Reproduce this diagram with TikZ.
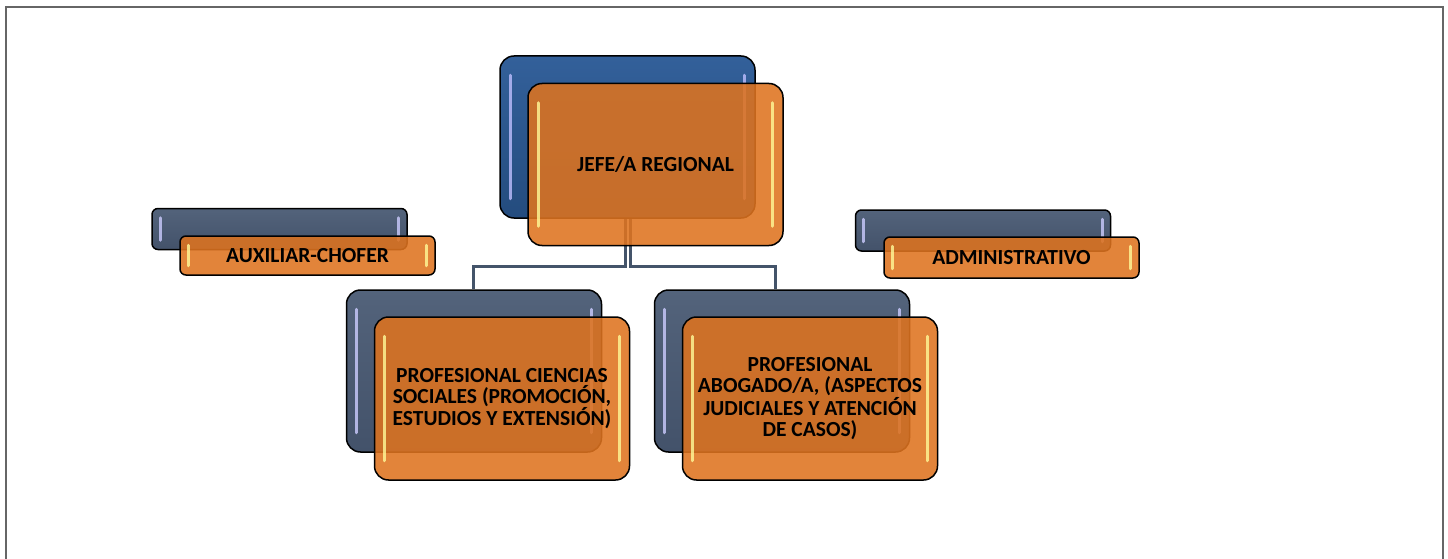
\documentclass[tikz,border=0pt]{standalone}
\usepackage{fontspec}
\setmainfont{Carlito}
\usetikzlibrary{backgrounds}
\definecolor{orgorange}{HTML}{DE731F}
\definecolor{orgblue}{HTML}{244C7E}
\definecolor{orgbluelight}{HTML}{33609A}
\definecolor{orgslate}{HTML}{43526A}
\definecolor{orgslatelight}{HTML}{53637B}
\definecolor{orgline}{HTML}{44546A}
\newcommand{\boxwide}{255pt}
\newcommand{\boxtall}{162pt}
\newcommand{\boxslim}{41pt}
\newcommand{\bigfont}{\fontsize{21.5}{21}\selectfont\bfseries}

\tikzset{
back/.style={rectangle, draw=black, line width=1.5pt, rounded corners=14pt, minimum width=\boxwide, minimum height=\boxtall, inner sep=0pt},
front/.style={back, fill=orgorange, fill opacity=0.88, text opacity=1, align=center, font=\bigfont},
slim/.style={rounded corners=6pt, minimum height=\boxslim},
conn/.style={draw=orgline, line width=3pt},
shine/.style={line width=3pt, line cap=round, draw=#1, opacity=0.8},
}

\begin{document}
\begin{tikzpicture}[x=1pt, y=-1pt]
\useasboundingbox (0,0) rectangle (1448,559);
\draw[black!60, line width=1.5pt] (6,559) -- (6,7) -- (1443,7) -- (1443,559);
%back
\node[back, top color=orgbluelight, bottom color=orgblue] (1b) at (627.5, 137) {};
\node[back, slim, top color=orgslatelight, bottom color=orgslate] (2b) at (279.5, 229) {};
\node[back, slim, top color=orgslatelight, bottom color=orgslate] (3b) at (983, 230.5) {};
\node[back, top color=orgslatelight, bottom color=orgslate] (4b) at (474, 371) {};
\node[back, top color=orgslatelight, bottom color=orgslate] (5b) at (782, 371) {};
\draw[shine=blue!25] ([xshift=11pt, yshift=-20pt]1b.north west) -- ([xshift=11pt, yshift=20pt]1b.south west);
\draw[shine=blue!25] ([xshift=-11pt, yshift=-20pt]1b.north east) -- ([xshift=-11pt, yshift=20pt]1b.south east);
\draw[shine=blue!20] ([xshift=11pt, yshift=-20pt]4b.north west) -- ([xshift=11pt, yshift=20pt]4b.south west);
\draw[shine=blue!20] ([xshift=-11pt, yshift=-20pt]4b.north east) -- ([xshift=-11pt, yshift=20pt]4b.south east);
\draw[shine=blue!20] ([xshift=11pt, yshift=-20pt]5b.north west) -- ([xshift=11pt, yshift=20pt]5b.south west);
\draw[shine=blue!20] ([xshift=-11pt, yshift=-20pt]5b.north east) -- ([xshift=-11pt, yshift=20pt]5b.south east);
\draw[shine=blue!20] ([xshift=9pt, yshift=-10pt]2b.north west) -- ([xshift=9pt, yshift=10pt]2b.south west);
\draw[shine=blue!20] ([xshift=-9pt, yshift=-10pt]2b.north east) -- ([xshift=-9pt, yshift=10pt]2b.south east);
\draw[shine=blue!20] ([xshift=9pt, yshift=-10pt]3b.north west) -- ([xshift=9pt, yshift=10pt]3b.south west);
\draw[shine=blue!20] ([xshift=-9pt, yshift=-10pt]3b.north east) -- ([xshift=-9pt, yshift=10pt]3b.south east);
%lines
\begin{scope}[on background layer]
\coordinate (l1) at ([xshift=-2.5pt]1b.south);
\coordinate (r1) at ([xshift=2.5pt]1b.south);
\draw[conn] (l1) -- (l1 |- 0,266) -- (473,266) -- (473,0 |- 4b.north);
\draw[conn] (r1) -- (r1 |- 0,266) -- (775,266) -- (775,0 |- 5b.north);
\end{scope}
%front
\node[front] (1) at (655.5, 164.5) {JEFE/A REGIONAL};
\node[front, slim, minimum height=39pt] (2) at (307.5, 255.5) {AUXILIAR-CHOFER};
\node[front, slim] (3) at (1011.5, 257.5) {ADMINISTRATIVO};
\node[front, minimum height=163pt] (4) at (502, 398.5) {PROFESIONAL CIENCIAS\\SOCIALES (PROMOCIÓN,\\ESTUDIOS Y EXTENSIÓN)};
\node[front, minimum height=163pt] (5) at (810, 398.5) {PROFESIONAL\\ABOGADO/A, (ASPECTOS\\JUDICIALES Y ATENCIÓN\\DE CASOS)};
\draw[shine=yellow!40] ([xshift=11pt, yshift=-20pt]1.north west) -- ([xshift=11pt, yshift=20pt]1.south west);
\draw[shine=yellow!40] ([xshift=-11pt, yshift=-20pt]1.north east) -- ([xshift=-11pt, yshift=20pt]1.south east);
\draw[shine=yellow!40] ([xshift=11pt, yshift=-20pt]4.north west) -- ([xshift=11pt, yshift=20pt]4.south west);
\draw[shine=yellow!40] ([xshift=-11pt, yshift=-20pt]4.north east) -- ([xshift=-11pt, yshift=20pt]4.south east);
\draw[shine=yellow!40] ([xshift=11pt, yshift=-20pt]5.north west) -- ([xshift=11pt, yshift=20pt]5.south west);
\draw[shine=yellow!40] ([xshift=-11pt, yshift=-20pt]5.north east) -- ([xshift=-11pt, yshift=20pt]5.south east);
\draw[shine=yellow!40] ([xshift=9pt, yshift=-10pt]2.north west) -- ([xshift=9pt, yshift=10pt]2.south west);
\draw[shine=yellow!40] ([xshift=-9pt, yshift=-10pt]2.north east) -- ([xshift=-9pt, yshift=10pt]2.south east);
\draw[shine=yellow!40] ([xshift=9pt, yshift=-10pt]3.north west) -- ([xshift=9pt, yshift=10pt]3.south west);
\draw[shine=yellow!40] ([xshift=-9pt, yshift=-10pt]3.north east) -- ([xshift=-9pt, yshift=10pt]3.south east);
\end{tikzpicture}
\end{document}
